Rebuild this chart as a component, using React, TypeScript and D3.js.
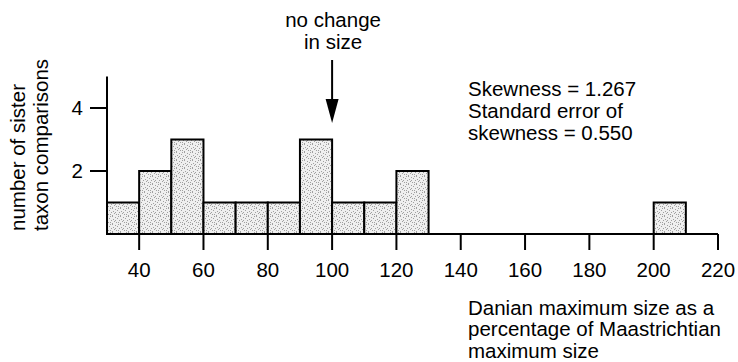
import React from 'react';
import * as d3 from 'd3';

// histogram bins (percent), width 10
const binStarts = [30, 40, 50, 60, 70, 80, 90, 100, 110, 120, 200];
const counts = [1, 2, 3, 1, 1, 1, 3, 1, 1, 2, 1];
const binWidth = 10;
const xTicks = [40, 60, 80, 100, 120, 140, 160, 180, 200, 220];
const yTicks = [2, 4];
const yLabelLines = ['number of sister', 'taxon comparisons'];
const xLabelLines = ['Danian maximum size as a', 'percentage of Maastrichtian', 'maximum size'];
const statLines = ['Skewness = 1.267', 'Standard error of', 'skewness = 0.550'];
const noteLines = ['no change', 'in size'];
const noteValue = 100;

const width = 738;
const height = 362;
const font = 'Helvetica, Arial, "Liberation Sans", sans-serif';

export default function App() {
  const x = d3.scaleLinear().domain([30, 220]).range([107, 718]);
  const y = d3.scaleLinear().domain([0, 5]).range([234, 76.5]);

  // fixed stipple texture for bar fills
  const dots = [
    [0, 0], [3, 1], [6, 0], [1, 3], [5, 2], [2, 5], [7, 4], [4, 6], [0, 7], [6, 6], [3, 4],
  ];

  const arrowX = x(noteValue);

  return (
    <div style={{ position: 'fixed', left: 0, top: 0 }}>
      <svg width={width} height={height} style={{ display: 'block', background: '#fff' }} fontFamily={font}>
        <defs>
          <pattern id="stipple" width={8} height={8} patternUnits="userSpaceOnUse">
            <rect width={8} height={8} fill="#efefef" />
            {dots.map((d, i) => (
              <rect key={i} x={d[0]} y={d[1]} width={1} height={1} fill="#a0a0a0" />
            ))}
          </pattern>
        </defs>

        {/* bars */}
        {binStarts.map((b, i) => (
          <rect
            key={b}
            x={x(b)}
            y={y(counts[i])}
            width={x(b + binWidth) - x(b)}
            height={y(0) - y(counts[i])}
            fill="url(#stipple)"
            stroke="#000"
            strokeWidth={2}
          />
        ))}

        {/* axes */}
        <line x1={x(30)} x2={x(220)} y1={y(0)} y2={y(0)} stroke="#000" strokeWidth={2} />
        <line x1={x(30)} x2={x(30)} y1={y(5)} y2={y(0)} stroke="#000" strokeWidth={2} />

        {xTicks.map((t) => (
          <g key={t}>
            <line x1={x(t)} x2={x(t)} y1={y(0)} y2={y(0) + 16} stroke="#000" strokeWidth={2} />
            <text x={x(t)} y={277} textAnchor="middle" fontSize={20.5}>
              {t}
            </text>
          </g>
        ))}

        {yTicks.map((t) => (
          <g key={t}>
            <line x1={x(30) - 17} x2={x(30)} y1={y(t)} y2={y(t)} stroke="#000" strokeWidth={2} />
            <text x={83} y={y(t) + 7} textAnchor="end" fontSize={20.5}>
              {t}
            </text>
          </g>
        ))}

        {/* y label */}
        {yLabelLines.map((l, i) => (
          <text key={l} transform={`translate(${25 + i * 22.5},231) rotate(-90)`} fontSize={20.5}>
            {l}
          </text>
        ))}

        {/* x label */}
        {xLabelLines.map((l, i) => (
          <text key={l} x={468} y={314.5 + i * 21.5} fontSize={20.5}>
            {l}
          </text>
        ))}

        {/* stats */}
        {statLines.map((l, i) => (
          <text key={l} x={468} y={95.5 + i * 22.2} fontSize={20.5}>
            {l}
          </text>
        ))}

        {/* no change annotation */}
        {noteLines.map((l, i) => (
          <text key={l} x={arrowX + 1} y={27 + i * 21.5} textAnchor="middle" fontSize={20.5}>
            {l}
          </text>
        ))}
        <line x1={arrowX} x2={arrowX} y1={60} y2={104} stroke="#000" strokeWidth={2} />
        <path d={`M${arrowX - 6.5},99 L${arrowX + 6.5},99 L${arrowX},123 Z`} fill="#000" />
      </svg>
    </div>
  );
}
